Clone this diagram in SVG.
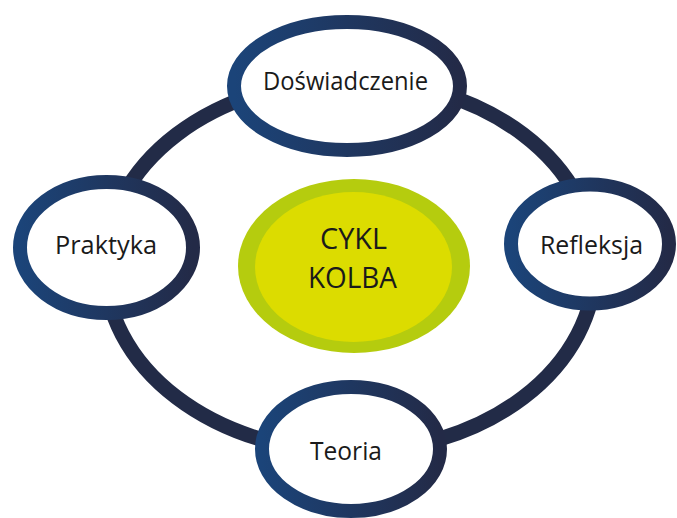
<svg xmlns="http://www.w3.org/2000/svg" width="677" height="518" viewBox="0 0 677 518">
  <defs>
    <linearGradient id="nodeStroke" x1="0" y1="0" x2="1" y2="0">
      <stop offset="0" stop-color="#1b4479"/>
      <stop offset="1" stop-color="#232a47"/>
    </linearGradient>
    <style>
      .ring { fill: none; stroke: #222b47; stroke-width: 15; }
      .node { fill: #ffffff; stroke: url(#nodeStroke); stroke-width: 14; }
      .label { font-family: "Open Sans", "Liberation Sans", sans-serif; font-size: 25px; fill: #1a1a1a; text-anchor: middle; }
      .center-label { font-family: "Open Sans", "Liberation Sans", sans-serif; font-size: 29px; fill: #1a1a1a; text-anchor: middle; }
    </style>
  </defs>
  <rect width="677" height="518" fill="#ffffff"/>
  <g id="connectors">
    <ellipse class="ring" cx="350" cy="266" rx="245" ry="186"/>
  </g>
  <g id="center">
    <ellipse cx="354" cy="266" rx="116" ry="87" fill="#b5cc0e"/>
    <ellipse cx="353.5" cy="267" rx="98.5" ry="75" fill="#dcdc00"/>
    <text class="center-label" x="353.5" y="249" textLength="67" lengthAdjust="spacingAndGlyphs">CYKL</text>
    <text class="center-label" x="352.5" y="288" textLength="89" lengthAdjust="spacingAndGlyphs">KOLBA</text>
  </g>
  <g id="node-doswiadczenie">
    <ellipse class="node" cx="347" cy="86" rx="113" ry="64"/>
    <text class="label" x="345.5" y="90" textLength="165" lengthAdjust="spacingAndGlyphs">Doświadczenie</text>
  </g>
  <g id="node-praktyka">
    <ellipse class="node" cx="106.5" cy="247.5" rx="86.5" ry="65.5"/>
    <text class="label" x="106" y="254" textLength="102" lengthAdjust="spacingAndGlyphs">Praktyka</text>
  </g>
  <g id="node-refleksja">
    <ellipse class="node" cx="590" cy="244" rx="79" ry="59.5"/>
    <text class="label" x="591.5" y="254" textLength="103" lengthAdjust="spacingAndGlyphs">Refleksja</text>
  </g>
  <g id="node-teoria">
    <ellipse class="node" cx="351" cy="449" rx="89" ry="62"/>
    <text class="label" x="346" y="460" textLength="72" lengthAdjust="spacingAndGlyphs">Teoria</text>
  </g>
</svg>
